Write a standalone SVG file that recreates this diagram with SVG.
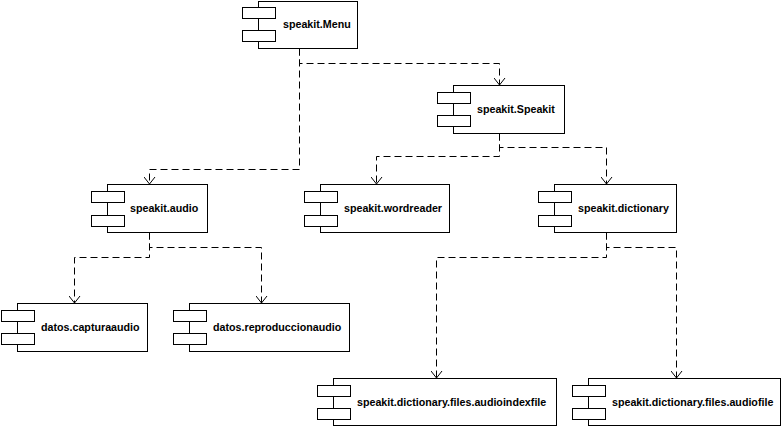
<svg xmlns="http://www.w3.org/2000/svg" width="782" height="427" viewBox="0 0 782 427">
<defs>
<style>
.body{fill:#fff;stroke:#000;stroke-width:1}
.port{fill:#fff;stroke:#000;stroke-width:1}
.lbl{font-family:"Liberation Sans",Arial,sans-serif;font-weight:bold;font-size:10.7px;fill:#000}
.dep{fill:none;stroke:#000;stroke-width:1;stroke-dasharray:7,4;marker-end:url(#open)}
</style>
<marker id="open" viewBox="0 0 8 12" refX="7.5" refY="6" markerWidth="8" markerHeight="12" markerUnits="userSpaceOnUse" orient="auto">
<path d="M0.5,0.5 L7.5,6 L0.5,11.5" fill="none" stroke="#000" stroke-width="1" stroke-dasharray="none"/>
</marker>
</defs>
<rect x="0" y="0" width="782" height="427" fill="#fff"/>
<g id="connectors">
<path class="dep" d="M299.5,48.5 V63.5 H499.5 V85"/>
<path class="dep" d="M299.5,48.5 V169.5 H149.5 V184"/>
<path class="dep" d="M499.5,133.5 V147.5 H606.5 V184"/>
<path class="dep" d="M499.5,133.5 V156.5 H376.5 V184"/>
<path class="dep" d="M149.5,232.5 V247.5 H261.5 V303"/>
<path class="dep" d="M149.5,232.5 V257.5 H74.5 V303"/>
<path class="dep" d="M606.5,232.5 V247.5 H676.5 V378"/>
<path class="dep" d="M606.5,232.5 V257.5 H436.5 V378"/>
</g>
<g id="node-menu">
<rect class="body" x="258.5" y="1.5" width="99" height="47"/>
<rect class="port" x="242.5" y="7.5" width="33" height="11"/>
<rect class="port" x="242.5" y="30.5" width="33" height="11"/>
<text class="lbl" x="283" y="28">speakit.Menu</text>
</g>
<g id="node-speakit">
<rect class="body" x="453.5" y="85.5" width="111" height="48"/>
<rect class="port" x="437.5" y="92.5" width="33" height="11"/>
<rect class="port" x="437.5" y="115.5" width="33" height="11"/>
<text class="lbl" x="477" y="113">speakit.Speakit</text>
</g>
<g id="node-audio">
<rect class="body" x="107.5" y="184.5" width="100" height="48"/>
<rect class="port" x="91.5" y="191.5" width="33" height="11"/>
<rect class="port" x="91.5" y="215.5" width="33" height="11"/>
<text class="lbl" x="130" y="212">speakit.audio</text>
</g>
<g id="node-wordreader">
<rect class="body" x="320.5" y="184.5" width="129" height="48"/>
<rect class="port" x="304.5" y="191.5" width="33" height="11"/>
<rect class="port" x="304.5" y="215.5" width="33" height="11"/>
<text class="lbl" x="344" y="212">speakit.wordreader</text>
</g>
<g id="node-dictionary">
<rect class="body" x="554.5" y="184.5" width="122" height="48"/>
<rect class="port" x="538.5" y="191.5" width="33" height="11"/>
<rect class="port" x="538.5" y="215.5" width="33" height="11"/>
<text class="lbl" x="578" y="212">speakit.dictionary</text>
</g>
<g id="node-capturaaudio">
<rect class="body" x="17.5" y="303.5" width="130" height="48"/>
<rect class="port" x="1.5" y="310.5" width="33" height="11"/>
<rect class="port" x="1.5" y="333.5" width="33" height="11"/>
<text class="lbl" x="41" y="331">datos.capturaaudio</text>
</g>
<g id="node-reproduccionaudio">
<rect class="body" x="189.5" y="303.5" width="160" height="48"/>
<rect class="port" x="173.5" y="310.5" width="33" height="11"/>
<rect class="port" x="173.5" y="333.5" width="33" height="11"/>
<text class="lbl" x="213" y="331">datos.reproduccionaudio</text>
</g>
<g id="node-audioindexfile">
<rect class="body" x="333.5" y="378.5" width="223" height="47"/>
<rect class="port" x="317.5" y="385.5" width="33" height="11"/>
<rect class="port" x="317.5" y="408.5" width="33" height="11"/>
<text class="lbl" x="357" y="406">speakit.dictionary.files.audioindexfile</text>
</g>
<g id="node-audiofile">
<rect class="body" x="588.5" y="378.5" width="192" height="47"/>
<rect class="port" x="572.5" y="385.5" width="33" height="11"/>
<rect class="port" x="572.5" y="408.5" width="33" height="11"/>
<text class="lbl" x="612" y="406">speakit.dictionary.files.audiofile</text>
</g>
</svg>
